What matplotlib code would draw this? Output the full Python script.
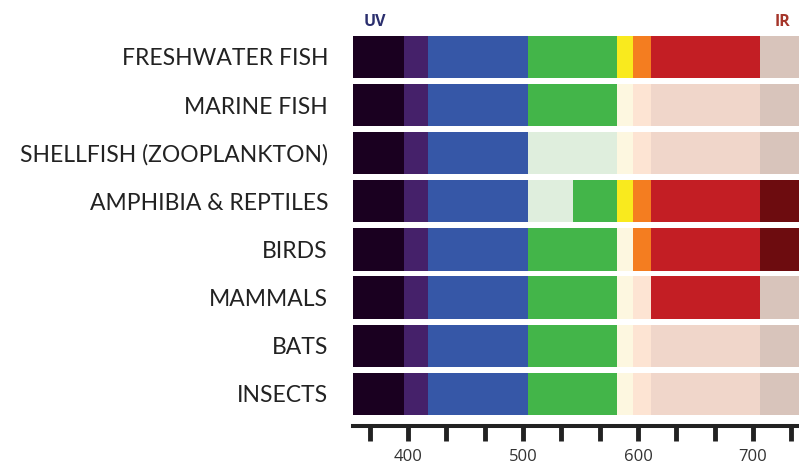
import matplotlib
matplotlib.use("Agg")
import matplotlib.pyplot as plt
from matplotlib.transforms import blended_transform_factory

# --- data ---
groups = ["FRESHWATER FISH", "MARINE FISH", "SHELLFISH (ZOOPLANKTON)",
          "AMPHIBIA & REPTILES", "BIRDS", "MAMMALS", "BATS", "INSECTS"]
# wavelength band edges (nm)
band_edges = [352, 396, 417, 504, 543, 582, 596, 611, 706, 740]
band_names = ["UV", "violet", "blue", "green-a", "green-b", "yellow", "orange", "red", "far-red"]
# 1 = seen (strong colour), 0 = not seen (pale colour)
seen = {
    "FRESHWATER FISH":         [1, 1, 1, 1, 1, 1, 1, 1, 0],
    "MARINE FISH":             [1, 1, 1, 1, 1, 0, 0, 0, 0],
    "SHELLFISH (ZOOPLANKTON)": [1, 1, 1, 0, 0, 0, 0, 0, 0],
    "AMPHIBIA & REPTILES":     [1, 1, 1, 0, 1, 1, 1, 1, 1],
    "BIRDS":                   [1, 1, 1, 1, 1, 0, 1, 1, 1],
    "MAMMALS":                 [1, 1, 1, 1, 1, 0, 0, 1, 0],
    "BATS":                    [1, 1, 1, 1, 1, 0, 0, 0, 0],
    "INSECTS":                 [1, 1, 1, 1, 1, 0, 0, 0, 0],
}
tick_values = [366.7, 400, 433.3, 466.7, 500, 533.3, 566.7, 600, 633.3, 666.7, 700, 733.3]
tick_labels = ["", "400", "", "", "500", "", "", "600", "", "", "700", ""]

strong_colors = ["#1a0020", "#45216a", "#3657a7", "#43b549", "#43b549",
                 "#f9ea1e", "#f47d20", "#c31e24", "#6d0c0f"]
pale_colors = ["#1a0020", "#45216a", "#3657a7", "#dfeedd", "#dfeedd",
               "#fdf7e0", "#fde4d3", "#f0d6ca", "#d8c4bb"]

fig = plt.figure(figsize=(7.99, 4.67), dpi=100)
ax = fig.add_axes([353 / 799, 1 - 418 / 467, 446 / 799, (418 - 32.8) / 467])

for i, g in enumerate(groups):
    for j in range(len(band_names)):
        left = band_edges[j]
        width = band_edges[j + 1] - band_edges[j]
        col = strong_colors[j] if seen[g][j] else pale_colors[j]
        ax.barh(i, width, left=left, height=0.878, color=col, edgecolor="none")

ax.set_xlim(band_edges[0], band_edges[-1])
ax.set_ylim(len(groups) - 0.5, -0.5)

ax.set_yticks(range(len(groups)))
ax.set_yticklabels(groups)
ax.tick_params(axis="y", length=0, pad=18, labelsize=16.5, labelcolor="#222222",
               labelfontfamily="Lato")

ax.set_xticks(tick_values)
ax.set_xticklabels(tick_labels)
ax.tick_params(axis="x", length=11, width=3.5, color="#222222", pad=5, direction="out",
               labelsize=12, labelcolor="#333333", labelfontfamily="Open Sans")

for s in ["top", "right", "left"]:
    ax.spines[s].set_visible(False)
ax.spines["bottom"].set_position(("outward", 6))
ax.spines["bottom"].set_linewidth(2.9)
ax.spines["bottom"].set_color("#222222")

tr = blended_transform_factory(ax.transData, fig.transFigure)
ax.text(371, 1 - 22.5 / 467, "UV", transform=tr, ha="center", va="center",
        fontsize=11.5, fontweight="bold", color="#2b2f6e", family=["Open Sans", "DejaVu Sans"])
ax.text(726, 1 - 22.5 / 467, "IR", transform=tr, ha="center", va="center",
        fontsize=11.5, fontweight="bold", color="#a5352a", family=["Open Sans", "DejaVu Sans"])

fig.savefig("out.png", dpi=100)
